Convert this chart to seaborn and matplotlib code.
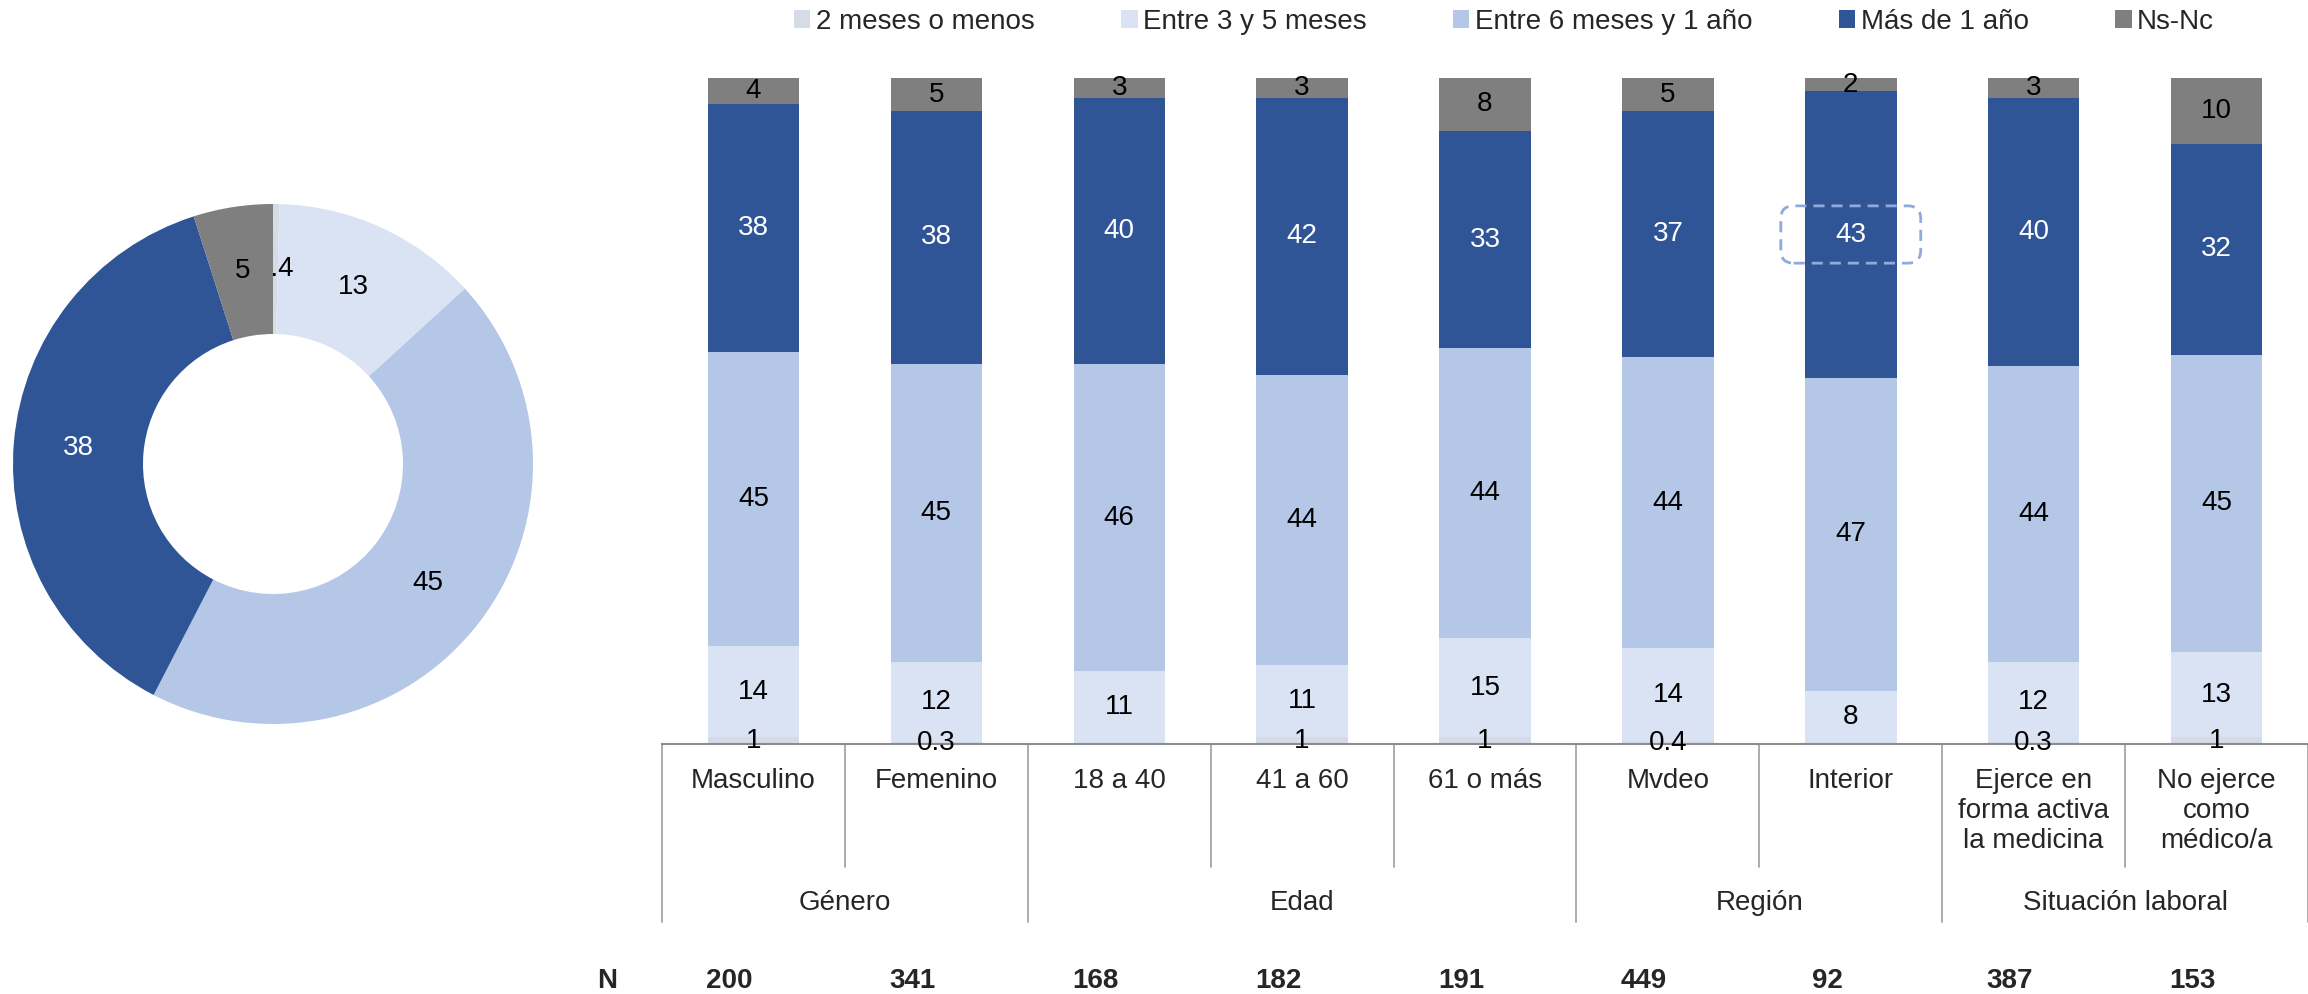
import numpy as np
import pandas as pd
import matplotlib
matplotlib.use('Agg')
import matplotlib.pyplot as plt
import matplotlib.transforms as mtransforms
from matplotlib.patches import Patch, FancyBboxPatch, Rectangle
import seaborn as sns

# --- data ---
series = ['2 meses o menos', 'Entre 3 y 5 meses', 'Entre 6 meses y 1 año', 'Más de 1 año', 'Ns-Nc']
colors = ['#D6DCE5', '#DAE3F3', '#B4C7E7', '#2F5597', '#7F7F7F']

total = [0.4, 13, 45, 38, 5]

categories = ['Masculino', 'Femenino', '18 a 40', '41 a 60', '61 o más', 'Mvdeo', 'Interior',
              'Ejerce en\nforma activa\nla medicina', 'No ejerce\ncomo\nmédico/a']
dos_meses = [1, 0.3, 0, 1, 1, 0.4, 0, 0.3, 1]
tres_cinco = [14, 12, 11, 11, 15, 14, 8, 12, 13]
seis_anio = [45, 45, 46, 44, 44, 44, 47, 44, 45]
mas_anio = [38, 38, 40, 42, 33, 37, 43, 40, 32]
ns_nc = [4, 5, 3, 3, 8, 5, 2, 3, 10]
n_casos = [200, 341, 168, 182, 191, 449, 92, 387, 153]

groups = ['Género', 'Edad', 'Región', 'Situación laboral']
group_sizes = [2, 3, 2, 2]

highlight = ('Interior', 3)

# --- style ---
sns.set_style('white')
plt.rcParams['font.family'] = ['Liberation Sans', 'DejaVu Sans']
FS = 20
line_col = '#A6A6A6'

W, H = 2308, 994
fig = plt.figure(figsize=(W / 100, H / 100), dpi=100)

# stacked bars, normalised to 100
vals = np.array([dos_meses, tres_cinco, seis_anio, mas_anio, ns_nc], dtype=float).T
pct = vals / vals.sum(axis=1, keepdims=True) * 100
cum = pct.cumsum(axis=1)

ax = fig.add_axes([662 / W, 1 - 744 / H, 1 - 662 / W, (744 - 78) / H])
for j in reversed(range(len(series))):
    df = pd.DataFrame({'cat': categories, 'val': cum[:, j]})
    sns.barplot(data=df, x='cat', y='val', order=categories, color=colors[j],
                width=0.5, saturation=1, errorbar=None, linewidth=0, ax=ax)

for i in range(len(categories)):
    for j in range(len(series)):
        v = vals[i, j]
        if v <= 0:
            continue
        yc = cum[i, j] - pct[i, j] / 2
        ax.text(i, yc, f'{v:g}', ha='center', va='center', fontsize=FS,
                color='white' if j == 3 else 'black', zorder=5)

# dashed highlight box
hi = categories.index(highlight[0])
yc = cum[hi, highlight[1]] - pct[hi, highlight[1]] / 2
bw, bh = 0.765, 8.6
ax.add_patch(FancyBboxPatch((hi - bw / 2, yc - bh / 2), bw, bh,
                            boxstyle='round,pad=0,rounding_size=0.07',
                            mutation_aspect=183 / 6.66, fill=False,
                            edgecolor='#8FAADC', linewidth=2,
                            linestyle=(0, (4, 2.5)), zorder=6, clip_on=False))

ax.set_xlim(-0.5, len(categories) - 0.5)
ax.set_ylim(0, 100)
ax.set_xlabel('')
ax.set_ylabel('')
ax.set_yticks([])
ax.tick_params(axis='x', length=0, pad=17, labelsize=FS)
for s in ['left', 'top', 'right']:
    ax.spines[s].set_visible(False)
ax.spines['bottom'].set_color('#8C8C8C')
ax.spines['bottom'].set_linewidth(1.5)

# category / group grid below axis
trans = mtransforms.blended_transform_factory(ax.transData, fig.transFigure)
y_axis = 1 - 744 / H
y_inner = 1 - 867 / H
y_group = 1 - 922 / H
edges = np.cumsum([0] + group_sizes) - 0.5
for b in np.arange(-0.5, len(categories), 1.0):
    yend = y_group if np.any(np.isclose(edges, b)) else y_inner
    ax.plot([b, b], [y_axis, yend], transform=trans, clip_on=False,
            color=line_col, linewidth=1.3)

for g, start, size in zip(groups, edges[:-1] + 0.5, group_sizes):
    ax.text(start + (size - 1) / 2, 1 - 903 / H, g, transform=trans,
            ha='center', va='center', fontsize=FS)

y_n = 1 - 981 / H
ax.text(-0.8, y_n, 'N', transform=trans, ha='center', va='center',
        fontsize=FS, fontweight='bold')
for i, n in enumerate(n_casos):
    ax.text(i - 0.13, y_n, str(n), transform=trans, ha='center', va='center',
            fontsize=FS, fontweight='bold')

# legend
handles = [Patch(facecolor=c, edgecolor='none', label=s) for s, c in zip(series, colors)]
fig.legend(handles=handles, loc='center', bbox_to_anchor=(1504 / W, 1 - 22 / H),
           ncol=5, frameon=False, fontsize=FS, handlelength=0.6, handleheight=0.6,
           handletextpad=0.2, columnspacing=3.1)

# donut
axd = fig.add_axes([13 / W, 1 - 724 / H, 520 / W, 520 / H])
wedges, _ = axd.pie(total, colors=colors, startangle=90, counterclock=False,
                    wedgeprops=dict(width=0.5, linewidth=0), radius=1)
axd.set_xlim(-1, 1)
axd.set_ylim(-1, 1)
axd.set_aspect('equal')
for j, (w, v) in enumerate(zip(wedges, total)):
    ang = np.deg2rad((w.theta1 + w.theta2) / 2)
    x, y = 0.75 * np.cos(ang), 0.75 * np.sin(ang)
    axd.text(x, y, f'{v:g}', ha='center', va='center', fontsize=FS,
             color='white' if j == 3 else 'black', zorder=5 if j == 0 else 7)
    if j == 4:
        # the Ns-Nc label hides the leading digit of the tiny slice label, as in the original
        cover = Rectangle((x + 0.04, y - 0.06), 0.125, 0.12, facecolor=colors[4],
                          edgecolor='none', zorder=6)
        cover.set_clip_path(w)
        axd.add_patch(cover)

fig.savefig('out.png', dpi=100)
